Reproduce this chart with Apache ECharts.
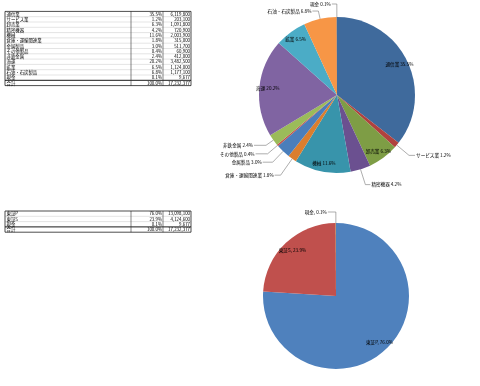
<!DOCTYPE html>
<html><head><meta charset="utf-8">
<script src="https://cdn.jsdelivr.net/npm/echarts@6/dist/echarts.min.js"></script>
<style>html,body{margin:0;padding:0;background:#fff}#c{width:480px;height:386px}</style>
</head><body><div id="c"></div>
<script>
// ---- data ----
const cats1 = ['通信業','サービス業','卸売業','精密機器','機械','倉庫・運輸関連業','金属製品','その他製品','非鉄金属','海運','鉱業','石油・石炭製品','現金'];
const vals1 = [6119800,203100,1091800,720900,2003900,315000,511700,60900,412000,3482500,1124000,1177100,9677];
const pct1  = ['35.5%','1.2%','6.3%','4.2%','11.6%','1.8%','3.0%','0.4%','2.4%','20.2%','6.5%','6.8%','0.1%'];
const inside1 = ['通信業','卸売業','機械','海運','鉱業'];
const cats2 = ['東証P','東証S','現金'];
const vals2 = [13098100,4124600,9677];
const pct2  = ['76.0%','23.9%','0.1%'];
const inside2 = ['東証P','東証S'];
const totalLabel = '合計';
const totalPct = '100.0%';

// ---- styles ----
const colors1 = ['#3F6A9C','#B0413E','#7E9D45','#6B5090','#3894AB','#DB7E2E','#4A7EBB','#C0504D','#9BBB59','#8064A2','#4BACC6','#F79646','#2C4D75'];
const colors2 = ['#4F81BD','#C0504D','#9BBB59'];
// leader line lengths per label (style only)
const leader1 = {'サービス業':[16,6],'精密機器':[16,5],'倉庫・運輸関連業':[20,6],'金属製品':[15,10],'その他製品':[13,12],'非鉄金属':[9,12],'石油・石炭製品':[8,6],'現金':[13,5]};
const leader2 = {'現金':[11,8]};
const FONT = '"Noto Sans CJK JP", "Noto Sans", sans-serif';
const fmt = v => v.toLocaleString('en-US');

function buildTable(top, names, pcts, vals) {
  const x0 = 5, x1 = 131, x2 = 163, x3 = 191, rowH = 5.3;
  const total = vals.reduce((a, b) => a + b, 0);
  const rows = names.map((n, i) => [n, pcts[i], fmt(vals[i])]);
  rows.push([totalLabel, totalPct, fmt(total)]);
  const n = rows.length;
  const h = n * rowH;
  const els = [];
  for (let i = 1; i < n; i++) {
    const y = top + i * rowH;
    const last = i === n - 1;
    els.push({type: 'line', shape: {x1: x0, y1: y, x2: x3, y2: y},
      style: {stroke: last ? '#000' : '#c8c8c8', lineWidth: last ? 0.9 : 0.5}, silent: true});
  }
  els.push({type: 'line', shape: {x1: x1, y1: top, x2: x1, y2: top + h}, style: {stroke: '#333', lineWidth: 0.6}});
  els.push({type: 'line', shape: {x1: x2, y1: top, x2: x2, y2: top + h}, style: {stroke: '#333', lineWidth: 0.6}});
  els.push({type: 'rect', shape: {x: x0, y: top, width: x3 - x0, height: h}, style: {fill: 'none', stroke: '#000', lineWidth: 0.7}});
  rows.forEach((r, i) => {
    const y = top + (i + 0.5) * rowH;
    const base = {fontSize: 4.4, fontFamily: FONT, fill: '#000', verticalAlign: 'middle'};
    els.push({type: 'text', x: x0 + 1.5, y: y, style: Object.assign({text: r[0], align: 'left'}, base)});
    els.push({type: 'text', x: x2 - 1, y: y, style: Object.assign({text: r[1], align: 'right'}, base)});
    els.push({type: 'text', x: x3 - 1, y: y, style: Object.assign({text: r[2], align: 'right'}, base)});
  });
  return els;
}

const labelBase = {fontSize: 4.6, fontFamily: FONT, color: '#000'};

function mainData(cats, vals, pcts, colors, inside, sep, leader) {
  return cats.map((c, i) => {
    const isIn = inside.includes(c);
    const d = {
      name: c, value: vals[i],
      itemStyle: {color: colors[i]},
      label: isIn ? {show: false} : Object.assign({show: true, formatter: c + sep + pcts[i]}, labelBase),
      labelLine: {show: !isIn}
    };
    if (!isIn && leader[c]) { d.labelLine.length = leader[c][0]; d.labelLine.length2 = leader[c][1]; }
    return d;
  });
}
function overlayData(cats, vals, pcts, inside, sep) {
  return cats.map((c, i) => ({
    name: c, value: vals[i],
    itemStyle: {color: 'rgba(0,0,0,0)'},
    label: inside.includes(c) ? Object.assign({show: true, position: 'inside', formatter: c + sep + pcts[i]}, labelBase) : {show: false}
  }));
}

const chart = echarts.init(document.getElementById('c'), null, {renderer: 'canvas'});
chart.setOption({
  animation: false,
  backgroundColor: '#fff',
  graphic: buildTable(11.4, cats1, pct1, vals1).concat(buildTable(211, cats2, pct2, vals2)),
  series: [
    {
      type: 'pie', center: [337, 95], radius: [0, 78], startAngle: 90, clockwise: true,
      silent: true, minShowLabelAngle: 0, avoidLabelOverlap: true,
      label: {position: 'outside', distanceToLabelLine: 1},
      labelLine: {length: 8, length2: 6, lineStyle: {color: '#777', width: 0.6}},
      data: mainData(cats1, vals1, pct1, colors1, inside1, ' ', leader1)
    },
    {
      type: 'pie', center: [337, 95], radius: [55, 78], startAngle: 90, clockwise: true,
      silent: true, minShowLabelAngle: 0, avoidLabelOverlap: false,
      labelLine: {show: false},
      data: overlayData(cats1, vals1, pct1, inside1, ' ')
    },
    {
      type: 'pie', center: [336, 296], radius: [0, 73], startAngle: 90, clockwise: true,
      silent: true, minShowLabelAngle: 0,
      label: {position: 'outside', distanceToLabelLine: 1},
      labelLine: {length: 8, length2: 6, lineStyle: {color: '#777', width: 0.6}},
      data: mainData(cats2, vals2, pct2, colors2, inside2, ', ', leader2)
    },
    {
      type: 'pie', center: [336, 296], radius: [48, 73], startAngle: 90, clockwise: true,
      silent: true, minShowLabelAngle: 0, avoidLabelOverlap: false,
      labelLine: {show: false},
      data: overlayData(cats2, vals2, pct2, inside2, ', ')
    }
  ]
});
</script></body></html>
